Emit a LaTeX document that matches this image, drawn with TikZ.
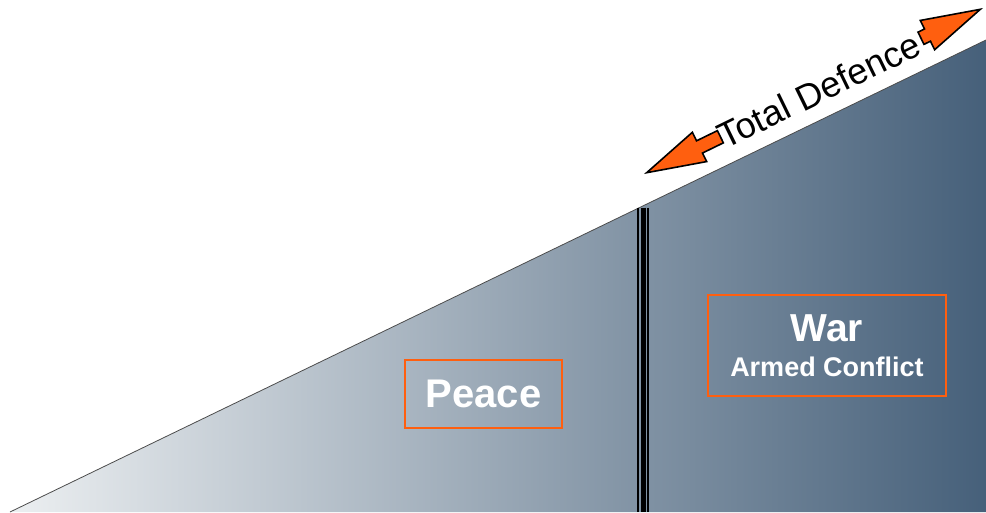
\documentclass[tikz,border=0pt]{standalone}
\usepackage{fontspec}
\setmainfont{Liberation Sans}
\usetikzlibrary{shapes.arrows}
\definecolor{defenceorange}{HTML}{FF5F0F}
\definecolor{peacegrey}{HTML}{ECEFF1}
\definecolor{midslate}{HTML}{9AA8B2}
\definecolor{warslate}{HTML}{46607A}

\begin{document}
\begin{tikzpicture}[x=1pt, y=-1pt,
    phasebox/.style={draw=defenceorange, line width=2pt, text=white, align=center, inner sep=0pt},
    defarrow/.style={single arrow, draw=black, fill=defenceorange, line width=1.6pt, inner xsep=0pt, inner ysep=6pt,
      single arrow head extend=9.5pt, single arrow tip angle=31}]
  \useasboundingbox (0,0) rectangle (986,512);
  % escalation slope
  \shade[left color=peacegrey, middle color=midslate, right color=warslate] (10,512) -- (986,40) -- (986,512) -- cycle;
  \draw[gray!60!black, line width=0.8pt] (10,512) -- (986,40);
  % threshold
  \draw[line width=1.7pt] (637.8,207.5) -- (637.8,512);
  \draw[line width=5pt] (643.2,207.5) -- (643.2,512);
  \draw[line width=2pt] (647.7,207.5) -- (647.7,512);
  % phases
  \node[phasebox, minimum width=157pt, minimum height=68pt, font=\bfseries\fontsize{40}{40}\selectfont] (peace) at (483.5,394) {Peace};
  \node[phasebox, minimum width=238pt, minimum height=101pt, font=\bfseries\fontsize{39}{35}\selectfont] (war) at (827,345.5)
    {War\\{\fontsize{27}{35}\selectfont Armed Conflict}};
  % total defence
  \node[rotate=26, font=\fontsize{36}{36}\selectfont, inner sep=0pt] (defence) at (819,90) {Total Defence};
  \node[defarrow, minimum height=66pt, rotate=26, anchor=tip] (toward) at (983,8) {};
  \node[defarrow, minimum height=82pt, rotate=206, anchor=tip] (topeace) at (644,174) {};
\end{tikzpicture}
\end{document}
